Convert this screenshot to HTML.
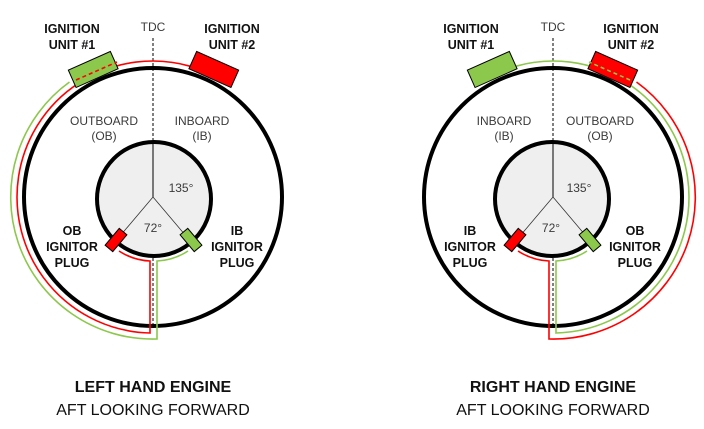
<!DOCTYPE html>
<html><head><style>
body{margin:0;background:#fff;}
svg{display:block;font-family:"Liberation Sans",sans-serif;}
.b{font-weight:bold;font-size:12.5px;fill:#111;}
.l{font-size:12px;fill:#3a3a3a;}
</style></head><body>
<svg width="704" height="429" viewBox="0 0 704 429">
<defs>
<g id="eng">
  <line x1="153" y1="38" x2="153" y2="328" stroke="#000" stroke-width="1" stroke-dasharray="3,2"/>
  <circle cx="153" cy="197" r="129" fill="none" stroke="#000" stroke-width="4"/>
  <circle cx="154" cy="199" r="57" fill="#efefef" stroke="#000" stroke-width="4"/>
  <line x1="153" y1="142" x2="153" y2="197" stroke="#000" stroke-width="1"/>
  <line x1="153" y1="197" x2="120" y2="236" stroke="#333" stroke-width="0.8"/>
  <line x1="153" y1="197" x2="186" y2="236" stroke="#333" stroke-width="0.8"/>
  <path d="M190.5,66.3 A136,136 0 1 0 150,333 L150,261 A62,62 0 0 1 119,251" fill="none" stroke="var(--a)" stroke-width="1.6"/>
  <path d="M69.5,82 A142,142 0 0 0 157,339 L157,261 A62,62 0 0 0 188,251" fill="none" stroke="var(--b)" stroke-width="1.6"/>
  <rect x="70" y="60" width="46" height="19" fill="var(--b)" stroke="#000" stroke-width="1" transform="rotate(-24 93 69)"/>
  <line x1="76" y1="80" x2="117" y2="62" stroke="var(--a)" stroke-width="1.6" stroke-dasharray="4,3"/>
  <rect x="191" y="60" width="46" height="19" fill="var(--a)" stroke="#000" stroke-width="1" transform="rotate(24 214 69)"/>
  <rect x="105" y="235" width="22" height="10" fill="var(--a)" stroke="#000" stroke-width="1" transform="rotate(-50 116 240)"/>
  <rect x="180" y="235" width="22" height="10" fill="var(--b)" stroke="#000" stroke-width="1" transform="rotate(50 191 240)"/>
</g>
</defs>
<use href="#eng" style="--a:#ff0000;--b:#8cc84b"/>
<use href="#eng" transform="translate(706,0) scale(-1,1)" style="--a:#8cc84b;--b:#ff0000"/>

<g text-anchor="middle">
<text class="b" x="72" y="33">IGNITION</text><text class="b" x="72" y="49">UNIT #1</text>
<text class="b" x="232" y="33">IGNITION</text><text class="b" x="232" y="49">UNIT #2</text>
<text class="l" x="153" y="31" font-size="10">TDC</text>
<text class="l" x="104" y="125">OUTBOARD</text><text class="l" x="104" y="140">(OB)</text>
<text class="l" x="202" y="125">INBOARD</text><text class="l" x="202" y="140">(IB)</text>
<text class="l" x="181" y="192">135°</text>
<text class="l" x="153" y="232">72°</text>
<text class="b" x="72" y="235">OB</text><text class="b" x="72" y="251">IGNITOR</text><text class="b" x="72" y="267">PLUG</text>
<text class="b" x="237" y="235">IB</text><text class="b" x="237" y="251">IGNITOR</text><text class="b" x="237" y="267">PLUG</text>
<text x="153" y="392" font-weight="bold" font-size="16" fill="#111">LEFT HAND ENGINE</text>
<text x="153" y="415" font-size="16" fill="#111">AFT LOOKING FORWARD</text>

<text class="b" x="471" y="33">IGNITION</text><text class="b" x="471" y="49">UNIT #1</text>
<text class="b" x="631" y="33">IGNITION</text><text class="b" x="631" y="49">UNIT #2</text>
<text class="l" x="553" y="31" font-size="10">TDC</text>
<text class="l" x="504" y="125">INBOARD</text><text class="l" x="504" y="140">(IB)</text>
<text class="l" x="600" y="125">OUTBOARD</text><text class="l" x="600" y="140">(OB)</text>
<text class="l" x="579" y="192">135°</text>
<text class="l" x="551" y="232">72°</text>
<text class="b" x="470" y="235">IB</text><text class="b" x="470" y="251">IGNITOR</text><text class="b" x="470" y="267">PLUG</text>
<text class="b" x="635" y="235">OB</text><text class="b" x="635" y="251">IGNITOR</text><text class="b" x="635" y="267">PLUG</text>
<text x="553" y="392" font-weight="bold" font-size="16" fill="#111">RIGHT HAND ENGINE</text>
<text x="553" y="415" font-size="16" fill="#111">AFT LOOKING FORWARD</text>
</g>
</svg>
</body></html>
